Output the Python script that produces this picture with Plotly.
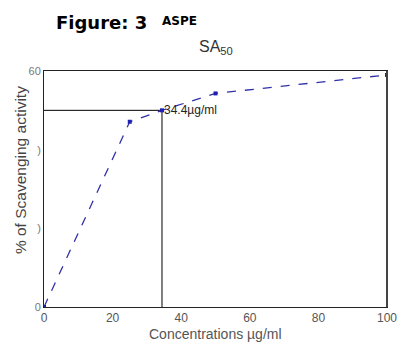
import plotly.graph_objects as go

conc = [0, 25, 34.4, 50, 100]
activity = [0, 47.1, 50, 54.3, 59.0]
sa50_x = 34.4
sa50_y = 50
x_ticks = [0, 20, 40, 60, 80, 100]
y_ticks = [0, 20, 40, 60]
y_ticktext = ["0", ")", ")", "60"]

fig = go.Figure()
# SA50 reference lines
fig.add_trace(go.Scatter(x=[0, sa50_x, sa50_x], y=[sa50_y, sa50_y, 0], mode="lines",
                         line=dict(color="black", width=1), hoverinfo="skip", showlegend=False))
fig.add_trace(go.Scatter(x=conc, y=activity, mode="lines+markers",
                         line=dict(color="#3030a8", width=1.3, dash="dash"),
                         marker=dict(symbol="square", size=4, color="#2020b0"),
                         showlegend=False))

fig.add_annotation(x=sa50_x, y=sa50_y, text="34.4µg/ml", showarrow=False, xanchor="left",
                   yanchor="middle", xshift=0,
                   font=dict(family="Liberation Sans, Arial", size=12, color="#222"))
fig.add_annotation(xref="paper", yref="paper", x=0.03, y=1.0, yshift=49, text="<b>Figure: 3</b>",
                   showarrow=False, xanchor="left", yanchor="middle",
                   font=dict(family="DejaVu Sans", size=18, color="black"))
fig.add_annotation(xref="paper", yref="paper", x=0.338, y=1.0, yshift=50, text="<b>ASPE</b>",
                   showarrow=False, xanchor="left", yanchor="middle",
                   font=dict(family="DejaVu Sans", size=12, color="black"))
fig.add_annotation(xref="paper", yref="paper", x=0.5, y=1.0, yshift=24, text="SA<sub>50</sub>",
                   showarrow=False, xanchor="center", yanchor="middle",
                   font=dict(family="Liberation Sans, Arial", size=16, color="#333"))
fig.add_annotation(xref="paper", yref="paper", x=0, xshift=-24, y=0.58,
                   text="% of Scavenging activity", textangle=-90, showarrow=False,
                   xanchor="center", yanchor="middle",
                   font=dict(family="Liberation Sans, Arial", size=15.5, color="#444"))
fig.add_annotation(xref="paper", yref="paper", x=0.5, y=0, yshift=-27,
                   text="Concentrations µg/ml", showarrow=False,
                   xanchor="center", yanchor="middle",
                   font=dict(family="Liberation Sans, Arial", size=14, color="#555"))

# heavier right frame edge
fig.add_shape(type="line", xref="paper", yref="paper", x0=1, x1=1, y0=0, y1=1,
              line=dict(color="#444", width=2))

fig.update_layout(
    width=398, height=342,
    margin=dict(l=44, r=11, t=71, b=35),
    paper_bgcolor="white", plot_bgcolor="white",
    font=dict(family="Liberation Sans, Arial", size=11, color="#555"),
    xaxis=dict(range=[0, 100], tickvals=x_ticks, showgrid=False, zeroline=False,
               showline=True, linecolor="#222", linewidth=1, mirror=True, automargin=False,
               ticks="", tickfont=dict(size=12, color="#555")),
    yaxis=dict(range=[0, 60], tickvals=y_ticks, ticktext=y_ticktext, showgrid=False,
               zeroline=False, showline=True, linecolor="#222", linewidth=1, mirror=True,
               automargin=False, ticks="", tickfont=dict(size=11, color="#777")),
)
# remove the page's default body margin so the 398x342 figure fills the window
fig.write_html("out.html", config={"displayModeBar": False},
               post_script="document.body.style.margin='0';document.body.style.overflow='hidden';")
